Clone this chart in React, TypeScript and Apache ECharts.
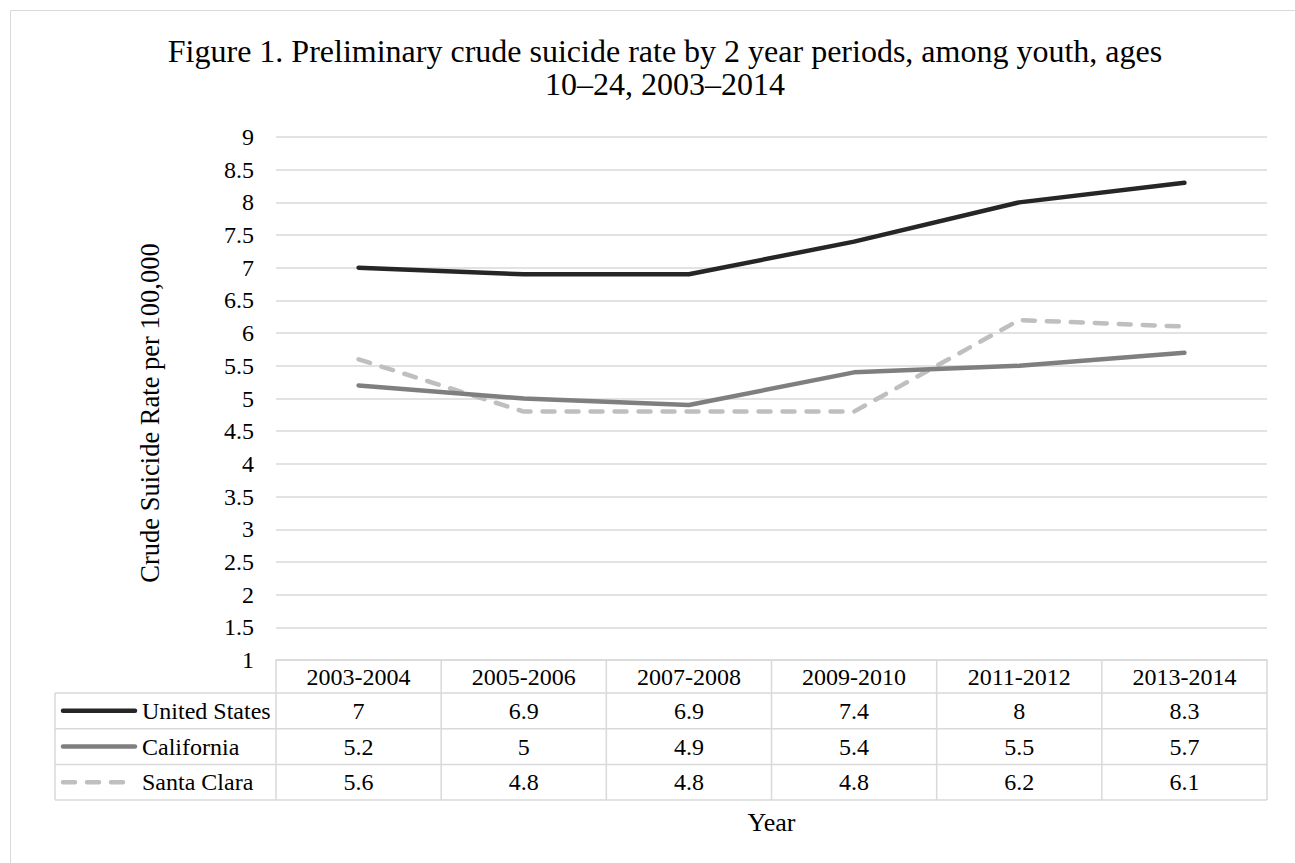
import React, { useEffect, useRef } from "react";
import * as echarts from "echarts";

// Two-year periods shown on the category axis and as the table header
const categories = ["2003-2004", "2005-2006", "2007-2008", "2009-2010", "2011-2012", "2013-2014"];

// Crude suicide rate per 100,000, ages 10–24
const unitedStates = [7, 6.9, 6.9, 7.4, 8, 8.3];
const california = [5.2, 5, 4.9, 5.4, 5.5, 5.7];
const santaClara = [5.6, 4.8, 4.8, 4.8, 6.2, 6.1];

const seriesNames = ["United States", "California", "Santa Clara"];

const titleLines = [
  "Figure 1. Preliminary crude suicide rate by 2 year periods, among youth, ages",
  "10–24, 2003–2014",
];
const yAxisTitle = "Crude Suicide Rate per 100,000";
const xAxisTitle = "Year";

const FONT = "'Liberation Serif', 'Times New Roman', serif";
const GRID = "#d9d9d9";
const TEXT = "#000000";

// plot area and data-table geometry
const GRID_LEFT = 276;
const GRID_RIGHT = 1267;
const GRID_TOP = 137;
const GRID_BOTTOM = 660;
const HEADER_H = 33;
const ROW_H = 35.7;
const TABLE_LEFT = 55;

const seriesStyles = [
  { color: "#262626", dash: undefined as number[] | undefined },
  { color: "#7f7f7f", dash: undefined as number[] | undefined },
  { color: "#bfbfbf", dash: [12, 12] },
];

export default function App() {
  const ref = useRef<HTMLDivElement>(null);

  useEffect(() => {
    if (!ref.current) return;
    const chart = echarts.init(ref.current, undefined, { renderer: "svg" });
    const values = [unitedStates, california, santaClara];

    chart.setOption({
      animation: false,
      backgroundColor: "#ffffff",
      title: {
        text: titleLines.join("\n"),
        left: 660,
        top: 29,
        textAlign: "center",
        textStyle: {
          fontFamily: FONT,
          fontSize: 32,
          fontWeight: "normal",
          color: TEXT,
          lineHeight: 33,
        },
      },
      grid: {
        left: GRID_LEFT,
        top: GRID_TOP,
        width: GRID_RIGHT - GRID_LEFT,
        height: GRID_BOTTOM - GRID_TOP,
        containLabel: false,
      },
      xAxis: {
        type: "category",
        data: categories,
        boundaryGap: true,
        axisLine: { show: true, lineStyle: { color: GRID, width: 1.5 } },
        axisTick: { show: false },
        splitLine: { show: false },
        axisLabel: {
          fontFamily: FONT,
          fontSize: 24,
          color: TEXT,
          margin: 0,
          lineHeight: HEADER_H,
          interval: 0,
        },
      },
      yAxis: {
        type: "value",
        min: 1,
        max: 9,
        interval: 0.5,
        axisLine: { show: false },
        axisTick: { show: false },
        splitLine: { show: true, lineStyle: { color: GRID, width: 1.5 } },
        axisLabel: {
          fontFamily: FONT,
          fontSize: 24,
          color: TEXT,
          margin: 22,
        },
      },
      series: values.map((data, i) => ({
        name: seriesNames[i],
        type: "line",
        data,
        symbol: "none",
        lineStyle: {
          color: seriesStyles[i].color,
          width: 4.5,
          type: seriesStyles[i].dash ?? "solid",
          cap: "round",
          join: "round",
        },
        z: 10 - i,
      })),
    });

    // data table under the plot, laid out on the category axis
    const colW = (GRID_RIGHT - GRID_LEFT) / categories.length;
    const rowTop = (r: number) => GRID_BOTTOM + HEADER_H + r * ROW_H;
    const tableBottom = rowTop(seriesNames.length);
    const line = (x1: number, y1: number, x2: number, y2: number) => ({
      type: "line",
      silent: true,
      shape: { x1, y1, x2, y2 },
      style: { stroke: GRID, lineWidth: 1.5 },
      z: 1,
    });

    const elements: any[] = [];
    elements.push({
      type: "rect",
      silent: true,
      shape: { x: 10.5, y: 10.5, width: 1400, height: 1000 },
      style: { fill: "none", stroke: GRID, lineWidth: 1 },
      z: 0,
    });

    for (let r = 0; r <= seriesNames.length; r++) {
      elements.push(line(TABLE_LEFT, rowTop(r), GRID_RIGHT, rowTop(r)));
    }
    elements.push(line(TABLE_LEFT, rowTop(0), TABLE_LEFT, tableBottom));
    for (let c = 0; c <= categories.length; c++) {
      const x = GRID_LEFT + c * colW;
      elements.push(line(x, GRID_BOTTOM, x, tableBottom));
    }

    seriesNames.forEach((name, r) => {
      const cy = rowTop(r) + ROW_H / 2;
      elements.push({
        type: "line",
        silent: true,
        shape: { x1: 63, y1: cy, x2: 135, y2: cy },
        style: {
          stroke: seriesStyles[r].color,
          lineWidth: 4.5,
          lineCap: "round",
          lineDash: seriesStyles[r].dash,
        },
        z: 2,
      });
      elements.push({
        type: "text",
        silent: true,
        x: 142,
        y: cy,
        style: {
          text: name,
          fontFamily: FONT,
          fontSize: 24,
          fill: TEXT,
          align: "left",
          verticalAlign: "middle",
        },
        z: 2,
      });
      values[r].forEach((v, c) => {
        const cx = chart.convertToPixel({ xAxisIndex: 0 }, categories[c]) as number;
        elements.push({
          type: "text",
          silent: true,
          x: cx,
          y: cy,
          style: {
            text: String(v),
            fontFamily: FONT,
            fontSize: 24,
            fill: TEXT,
            align: "center",
            verticalAlign: "middle",
          },
          z: 2,
        });
      });
    });

    elements.push({
      type: "text",
      silent: true,
      x: 150,
      y: 413,
      rotation: Math.PI / 2,
      style: {
        text: yAxisTitle,
        fontFamily: FONT,
        fontSize: 26.5,
        fill: TEXT,
        align: "center",
        verticalAlign: "middle",
      },
    });
    elements.push({
      type: "text",
      silent: true,
      x: (GRID_LEFT + GRID_RIGHT) / 2,
      y: 822,
      style: {
        text: xAxisTitle,
        fontFamily: FONT,
        fontSize: 26,
        fill: TEXT,
        align: "center",
        verticalAlign: "middle",
      },
    });

    chart.setOption({ graphic: elements });

    return () => chart.dispose();
  }, []);

  return (
    <div
      ref={ref}
      style={{ position: "fixed", left: 0, top: 0, width: 1295, height: 863 }}
    />
  );
}
